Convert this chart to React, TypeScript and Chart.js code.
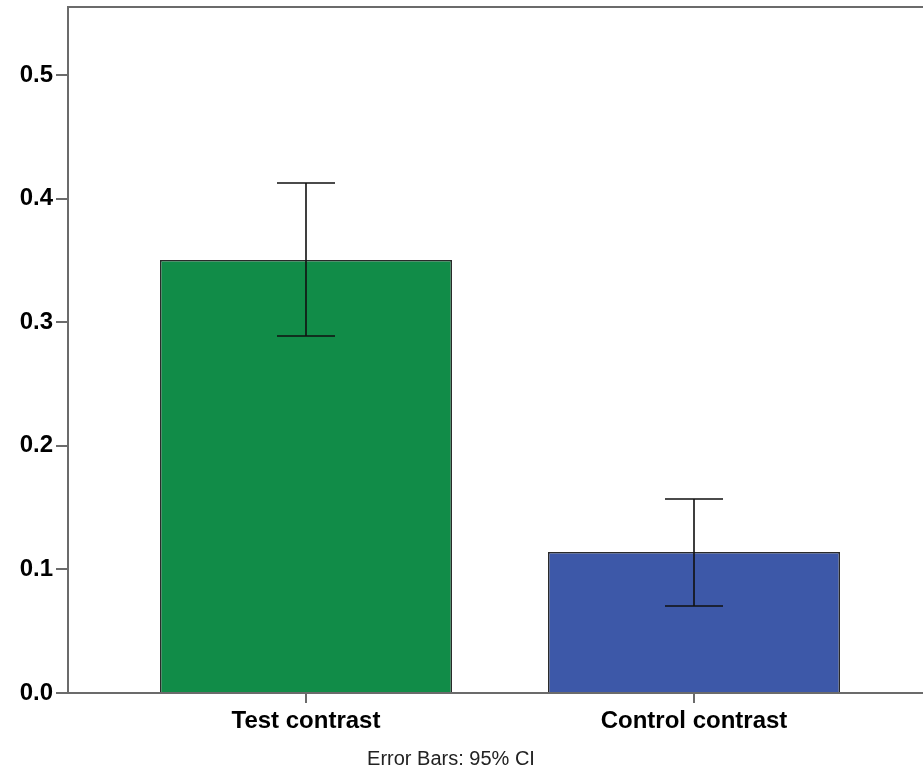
import React, { useEffect, useRef } from "react";
import { Chart, registerables } from "chart.js";

Chart.register(...registerables);

const categories = ["Test contrast", "Control contrast"];
const means = [0.3503, 0.1141];
const ciLower = [0.2888, 0.0704];
const ciUpper = [0.4126, 0.1570];
const barColors = ["#118C48", "#3D58A8"];
const yTicks = [0, 0.1, 0.2, 0.3, 0.4, 0.5];
const footnote = "Error Bars: 95% CI";

const AXIS = "#6b6b6b";
const FONT = "'Liberation Sans', Arial, sans-serif";

const extrasPlugin = {
  id: "extras",
  afterDatasetsDraw(chart: any) {
    const { ctx, chartArea, scales } = chart;
    const x = scales.x;
    const y = scales.y;
    ctx.save();
    // error bars
    ctx.strokeStyle = "#111";
    ctx.lineWidth = 1.6;
    for (let i = 0; i < means.length; i++) {
      const px = x.getPixelForValue(i);
      const lo = y.getPixelForValue(ciLower[i]);
      const hi = y.getPixelForValue(ciUpper[i]);
      const hw = 29;
      ctx.beginPath();
      ctx.moveTo(px, lo);
      ctx.lineTo(px, hi);
      ctx.moveTo(px - hw, lo);
      ctx.lineTo(px + hw, lo);
      ctx.moveTo(px - hw, hi);
      ctx.lineTo(px + hw, hi);
      ctx.stroke();
    }
    // top frame line
    ctx.strokeStyle = AXIS;
    ctx.lineWidth = 2;
    ctx.beginPath();
    ctx.moveTo(chartArea.left - 1, chartArea.top);
    ctx.lineTo(chartArea.right, chartArea.top);
    ctx.stroke();
    // footnote
    ctx.fillStyle = "#222";
    ctx.font = "20px " + FONT;
    ctx.textAlign = "center";
    ctx.textBaseline = "alphabetic";
    ctx.fillText(footnote, 451, 765);
    ctx.restore();
  },
};

export default function App() {
  const ref = useRef<HTMLCanvasElement | null>(null);
  useEffect(() => {
    document.body.style.margin = "0";
    const canvas = ref.current!;
    const chart = new Chart(canvas, {
      type: "bar",
      data: {
        datasets: [
          {
            data: means.map((m, i) => ({ x: i, y: m })),
            backgroundColor: barColors,
            borderColor: "#2a2a2a",
            borderWidth: 1.5,
            categoryPercentage: 1,
            barPercentage: 0.7526,
          } as any,
        ],
      },
      options: {
        animation: false,
        responsive: false,
        maintainAspectRatio: false,
        layout: { padding: { top: 7, right: 0, left: 0, bottom: 0 } },
        plugins: { legend: { display: false }, tooltip: { enabled: false }, title: { display: false } },
        scales: {
          x: {
            type: "linear",
            min: -0.6134,
            max: 1.5902,
            offset: false,
            grid: { offset: false, drawOnChartArea: false, drawTicks: true, tickLength: 10, color: AXIS, lineWidth: 2 },
            border: { color: AXIS, width: 2 },
            afterBuildTicks: (scale: any) => {
              scale.ticks = categories.map((_, i) => ({ value: i }));
            },
            afterFit: (scale: any) => {
              scale.height = 76;
              scale.paddingLeft = 0;
              scale.paddingRight = 0;
            },
            ticks: {
              autoSkip: false,
              maxRotation: 0,
              padding: 4,
              color: "#000",
              font: { family: FONT, size: 24, weight: "bold" },
              callback: (v: any) => categories[v as number] ?? "",
            },
          },
          y: {
            min: 0,
            max: 0.555,
            grid: { drawOnChartArea: false, drawTicks: true, tickLength: 12, color: AXIS, lineWidth: 2 },
            border: { color: AXIS, width: 2 },
            afterBuildTicks: (scale: any) => {
              scale.ticks = yTicks.map((v) => ({ value: v }));
            },
            afterFit: (scale: any) => {
              scale.width = 68;
              scale.paddingTop = 0;
              scale.paddingBottom = 0;
            },
            ticks: {
              padding: 3,
              color: "#000",
              font: { family: FONT, size: 24, weight: "bold" },
              callback: (v: any) => Number(v).toFixed(1),
            },
          },
        },
      } as any,
      plugins: [extrasPlugin],
    });
    return () => chart.destroy();
  }, []);
  return <canvas ref={ref} width={923} height={769} style={{ display: "block" }} />;
}
